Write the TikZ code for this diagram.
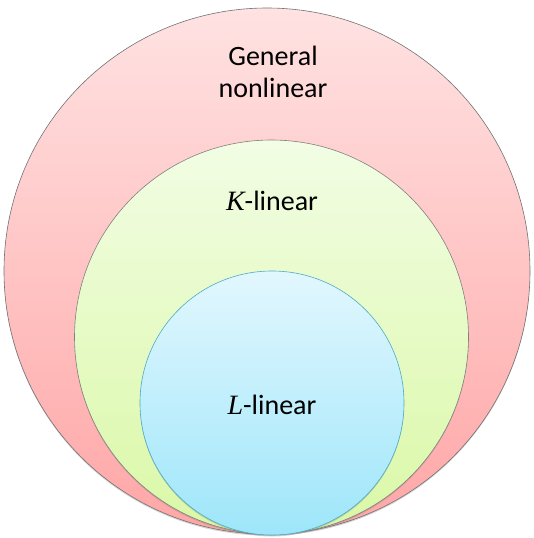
\documentclass[tikz,border=0pt]{standalone}
\usepackage{fontspec}
\setmainfont{Carlito}
\newfontfamily\mathital{Liberation Serif}
\usetikzlibrary{shadows,fadings}

\definecolor{redTop}{HTML}{FFE2E2}
\definecolor{redBot}{HTML}{FFA6A6}
\definecolor{greenTop}{HTML}{F2FDE4}
\definecolor{greenBot}{HTML}{DAF8A6}
\definecolor{blueTop}{HTML}{E2F7FE}
\definecolor{blueBot}{HTML}{9EE6FA}
\definecolor{blueEdge}{HTML}{4BACC6}

\tikzset{
  setdisc/.style={circle, inner sep=0pt, line width=0.6pt,
    drop shadow={shadow xshift=0pt, shadow yshift=-1.5pt, opacity=0.35}},
  label/.style={font=\fontsize{28}{32}\selectfont, align=center, text=black},
}

\begin{document}
\begin{tikzpicture}[x=1pt,y=-1pt]
  \useasboundingbox (0,0) rectangle (533,538);

  % nested sets, all touching at the bottom
  \node[setdisc, draw=black!55, top color=redTop, bottom color=redBot,
        minimum size=526pt] (general) at (267,271) {};
  \node[setdisc, draw=black!50, top color=greenTop, bottom color=greenBot,
        minimum size=394pt] (klin) at (271.5,337) {};
  \node[setdisc, draw=blueEdge, top color=blueTop, bottom color=blueBot,
        minimum size=264pt] (llin) at (272,403) {};

  % set names
  \node[label] (tg) at (273,72) {General\\nonlinear};
  \node[label] (tk) at (272,201) {{\mathital\itshape K}-linear};
  \node[label] (tl) at (272,405) {{\mathital\itshape L}-linear};
\end{tikzpicture}
\end{document}
